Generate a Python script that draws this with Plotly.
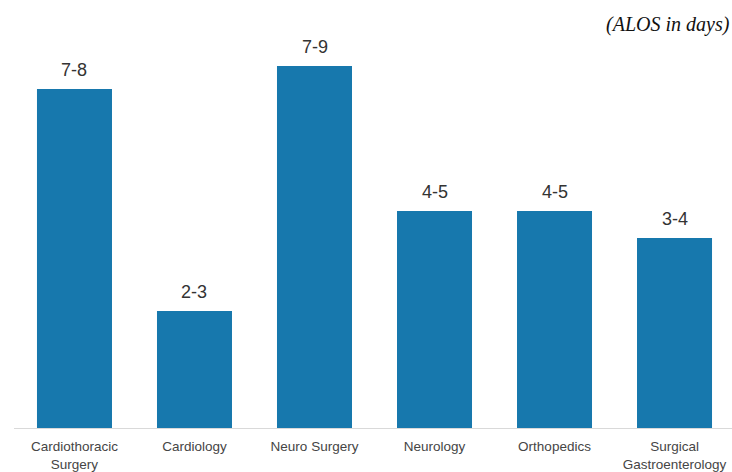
import plotly.graph_objects as go

# Average length of stay by specialty
specialties = [
    "Cardiothoracic<br>Surgery",
    "Cardiology",
    "Neuro Surgery",
    "Neurology",
    "Orthopedics",
    "Surgical<br>Gastroenterology",
]
alos_labels = ["7-8", "2-3", "7-9", "4-5", "4-5", "3-4"]
alos_values = [7.06, 2.44, 7.54, 4.52, 4.52, 3.96]

bar_color = "#1778ad"

fig = go.Figure()
fig.add_trace(
    go.Bar(
        x=list(range(len(specialties))),
        y=alos_values,
        width=0.625,
        marker=dict(color=bar_color, line=dict(width=0)),
        hoverinfo="skip",
    )
)

# Range labels above each bar
for i, (v, lab) in enumerate(zip(alos_values, alos_labels)):
    fig.add_annotation(
        x=i, y=v, text=lab, showarrow=False,
        yanchor="bottom", yshift=7,
        font=dict(family="Liberation Sans, Arial, sans-serif", size=18, color="#333333"),
    )

fig.add_annotation(
    xref="paper", yref="paper", x=1.0, y=1.0,
    xanchor="right", yanchor="bottom", yshift=2,
    text="<i>(ALOS in days)</i>", showarrow=False,
    font=dict(family="Liberation Serif, Times New Roman, serif", size=20, color="#111111"),
)

fig.update_layout(
    width=732, height=472,
    margin=dict(l=14, r=0, t=40, b=44),
    paper_bgcolor="white", plot_bgcolor="white",
    showlegend=False,
    xaxis=dict(
        tickmode="array",
        tickvals=list(range(len(specialties))),
        ticktext=specialties,
        range=[-0.504, 5.479],
        showgrid=False, zeroline=False,
        showline=True, linecolor="#d9d9d9", linewidth=1,
        ticks="", ticklabelstandoff=6,
        tickfont=dict(family="Liberation Sans, Arial, sans-serif", size=13.5, color="#454545"),
    ),
    yaxis=dict(
        range=[0, 8.083],
        visible=False, showgrid=False, zeroline=False,
    ),
)

fig.write_html("out.html")
